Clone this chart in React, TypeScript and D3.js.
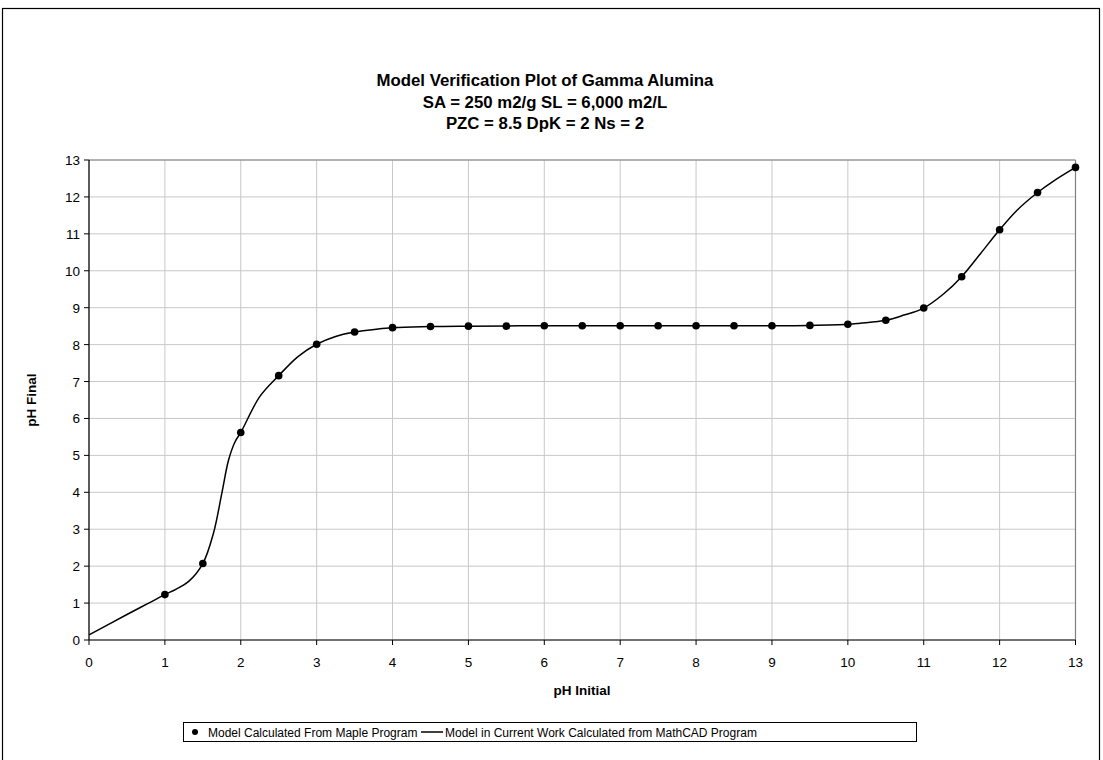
import React from "react";
import * as d3 from "d3";

// Maple program results: initial pH vs final pH
const mapleInitial = [1, 1.5, 2, 2.5, 3, 3.5, 4, 4.5, 5, 5.5, 6, 6.5, 7, 7.5, 8, 8.5, 9, 9.5, 10, 10.5, 11, 11.5, 12, 12.5, 13];
const mapleFinal = [1.23, 2.07, 5.62, 7.16, 8.01, 8.34, 8.46, 8.49, 8.5, 8.5, 8.51, 8.51, 8.51, 8.51, 8.51, 8.51, 8.51, 8.52, 8.55, 8.66, 8.99, 9.84, 11.11, 12.12, 12.8];

// MathCAD model curve samples
const curveInitial = [0, 0.5, 0.76, 1, 1.15, 1.31, 1.5, 1.64, 1.75, 1.84, 1.925, 2, 2.25, 2.5, 2.75, 3, 3.25, 3.5, 4, 4.5, 5, 6, 7, 8, 9, 9.5, 10, 10.16, 10.5, 10.74, 11, 11.26, 11.5, 11.75, 12, 12.23, 12.5, 12.71, 13];
const curveFinal = [0.14, 0.69, 0.97, 1.23, 1.38, 1.58, 2.07, 2.89, 3.97, 4.88, 5.37, 5.62, 6.59, 7.16, 7.67, 8.01, 8.22, 8.34, 8.46, 8.49, 8.5, 8.51, 8.51, 8.51, 8.51, 8.52, 8.55, 8.58, 8.66, 8.8, 8.99, 9.37, 9.84, 10.47, 11.11, 11.64, 12.12, 12.43, 12.8];

const xTicks = d3.range(0, 14);
const yTicks = d3.range(0, 14);

const titleLines = [
  "Model Verification Plot of Gamma Alumina",
  "SA = 250 m2/g SL = 6,000 m2/L",
  "PZC = 8.5 DpK = 2 Ns = 2",
];

const legendLabels = [
  "Model Calculated From Maple Program",
  "Model in Current Work Calculated from MathCAD Program",
];

const FONT = "Arial, 'Liberation Sans', Helvetica, sans-serif";

export default function App() {
  const W = 1103;
  const H = 760;
  const left = 89;
  const right = 1075.5;
  const top = 160;
  const bottom = 640;

  const x = d3.scaleLinear().domain([0, 13]).range([left, right]);
  const y = d3.scaleLinear().domain([0, 13]).range([bottom, top]);

  const curvePts: [number, number][] = curveInitial.map((v, i) => [v, curveFinal[i]]);
  const line = d3
    .line<[number, number]>()
    .x((d) => x(d[0]))
    .y((d) => y(d[1]))
    .curve(d3.curveCatmullRom.alpha(0.5));

  return (
    <svg
      width={W}
      height={H}
      style={{ position: "absolute", left: 0, top: 0, display: "block", background: "#fff" }}
      fontFamily={FONT}
    >
      <rect x={0} y={0} width={W} height={H} fill="#fff" />
      {/* outer chart border */}
      <rect x={2.5} y={8.5} width={1097} height={760} fill="none" stroke="#000" strokeWidth={1.2} />

      {/* title */}
      {titleLines.map((t, i) => (
        <text
          key={t}
          x={545}
          y={86 + i * 21.5}
          textAnchor="middle"
          fontSize={16.8}
          fontWeight="bold"
          fill="#000"
        >
          {t}
        </text>
      ))}

      {/* grid */}
      {yTicks.map((t) => (
        <line key={"gy" + t} x1={left} x2={right} y1={y(t)} y2={y(t)} stroke="#c8c8c8" strokeWidth={1} />
      ))}
      {xTicks.map((t) => (
        <line key={"gx" + t} x1={x(t)} x2={x(t)} y1={top} y2={bottom} stroke="#c8c8c8" strokeWidth={1} />
      ))}

      {/* plot frame: top and right */}
      <line x1={left} x2={right} y1={top} y2={top} stroke="#808080" strokeWidth={1.2} />
      <line x1={right} x2={right} y1={top} y2={bottom} stroke="#808080" strokeWidth={1.2} />

      {/* axes */}
      <line x1={left} x2={left} y1={top} y2={bottom} stroke="#000" strokeWidth={1.2} />
      <line x1={left} x2={right} y1={bottom} y2={bottom} stroke="#000" strokeWidth={1.2} />
      {yTicks.map((t) => (
        <g key={"ty" + t}>
          <line x1={left - 5} x2={left} y1={y(t)} y2={y(t)} stroke="#000" strokeWidth={1} />
          <text x={left - 9} y={y(t) + 5} textAnchor="end" fontSize={13.5} fill="#000">
            {t}
          </text>
        </g>
      ))}
      {xTicks.map((t) => (
        <g key={"tx" + t}>
          <line x1={x(t)} x2={x(t)} y1={bottom} y2={bottom + 5} stroke="#000" strokeWidth={1} />
          <text x={x(t)} y={bottom + 27} textAnchor="middle" fontSize={13.5} fill="#000">
            {t}
          </text>
        </g>
      ))}

      {/* axis titles */}
      <text x={582} y={695} textAnchor="middle" fontSize={13.5} fontWeight="bold" fill="#000">
        pH Initial
      </text>
      <text
        transform={`translate(36, ${(top + bottom) / 2}) rotate(-90)`}
        textAnchor="middle"
        fontSize={13.5}
        fontWeight="bold"
        fill="#000"
      >
        pH Final
      </text>

      {/* MathCAD curve */}
      <path d={line(curvePts) || ""} fill="none" stroke="#000" strokeWidth={1.5} />

      {/* Maple points */}
      {mapleInitial.map((v, i) => (
        <circle key={"p" + i} cx={x(v)} cy={y(mapleFinal[i])} r={3.8} fill="#000" />
      ))}

      {/* legend */}
      <rect x={183.5} y={722.5} width={733} height={19} fill="#fff" stroke="#000" strokeWidth={1} />
      <circle cx={195} cy={732} r={3} fill="#000" />
      <text x={208} y={736.5} fontSize={12} fill="#000">
        {legendLabels[0]}
      </text>
      <line x1={421} x2={443} y1={732} y2={732} stroke="#000" strokeWidth={1.5} />
      <text x={445} y={736.5} fontSize={12} fill="#000">
        {legendLabels[1]}
      </text>
    </svg>
  );
}
